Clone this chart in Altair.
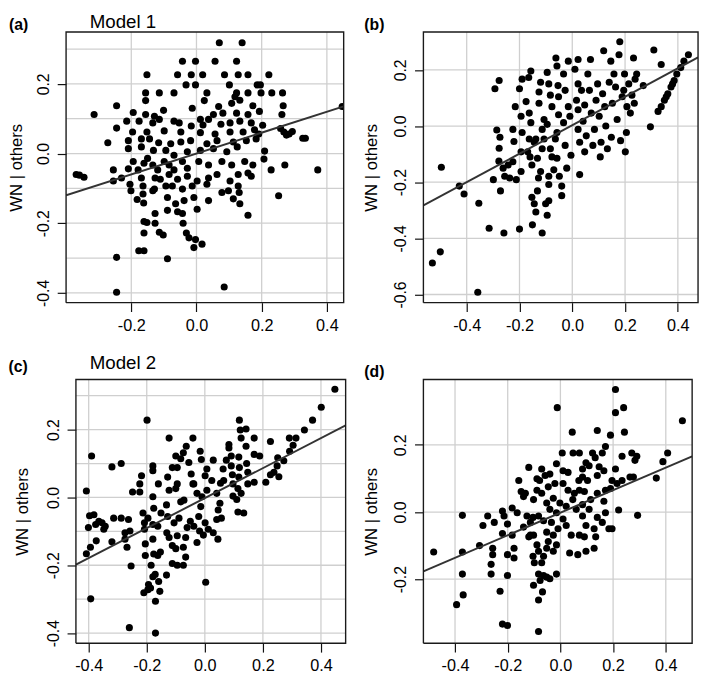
import altair as alt
import pandas as pd

FONT = "Liberation Sans"

# ---------------- data ----------------
pts_a = [
(0.070,0.318),(0.140,0.318),(-0.043,0.265),(-0.003,0.265),(0.057,0.265),(0.123,0.265),
(-0.152,0.226),(-0.058,0.226),(-0.016,0.226),(0.019,0.226),(0.086,0.226),(0.128,0.226),(0.158,0.226),(0.222,0.226),
(-0.032,0.197),(-0.003,0.197),(0.101,0.197),(0.186,0.197),(0.196,0.197),
(-0.156,0.174),(-0.114,0.174),(-0.069,0.174),(0.032,0.174),(0.123,0.174),(0.158,0.174),(0.198,0.174),(0.231,0.174),(0.264,0.174),
(-0.156,0.152),(0.024,0.152),(0.118,0.163),(0.133,0.153),
(-0.245,0.137),(-0.314,0.112),(-0.194,0.118),(-0.156,0.112),(-0.101,0.124),(-0.013,0.130),(0.068,0.135),(0.108,0.144),(0.173,0.137),(0.266,0.137),(0.447,0.135),
(-0.129,0.107),(-0.069,0.093),(0.012,0.098),(0.052,0.112),(0.081,0.116),(0.123,0.116),(0.158,0.112),(0.193,0.121),(0.262,0.112),
(-0.245,0.073),(-0.214,0.093),(-0.176,0.093),(-0.134,0.088),(-0.114,0.098),(-0.053,0.088),(-0.016,0.079),(0.020,0.082),(0.037,0.098),(0.075,0.084),(0.103,0.088),(0.133,0.093),(0.168,0.088),(0.203,0.081),(0.258,0.072),(0.268,0.062),
(-0.196,0.062),(-0.152,0.062),(-0.099,0.065),(-0.048,0.062),(0.012,0.060),(0.057,0.056),(0.103,0.062),(0.143,0.062),(0.178,0.068),(0.191,0.056),(0.284,0.056),(0.294,0.063),(0.276,0.053),
(-0.272,0.031),(-0.209,0.037),(-0.169,0.042),(-0.144,0.042),(-0.116,0.031),(-0.079,0.028),(-0.048,0.033),(-0.018,0.037),(0.032,0.028),(0.063,0.037),(0.113,0.033),(0.153,0.037),(0.183,0.042),(0.326,0.044),(0.334,0.044),
(-0.209,0.014),(-0.169,0.019),(-0.132,0.009),(-0.094,0.009),(-0.069,-0.005),(-0.028,0.005),(0.012,0.009),(0.052,0.014),(0.093,0.005),(0.125,0.019),(0.209,0.007),(0.207,-0.016),
(-0.369,-0.060),(-0.359,-0.062),(-0.345,-0.068),(-0.255,-0.047),(-0.255,-0.079),(-0.230,-0.070),(-0.209,-0.044),(-0.194,-0.023),(-0.179,-0.047),(-0.161,-0.028),(-0.150,-0.014),(-0.134,-0.033),(-0.119,-0.047),(-0.099,-0.023),(-0.084,-0.033),(-0.069,-0.047),(-0.043,-0.023),(-0.028,-0.042),(0.007,-0.023),(0.037,-0.033),(0.078,-0.023),(0.108,-0.033),(0.148,-0.023),(0.173,-0.033),(0.229,-0.047),(0.271,-0.033),(0.372,-0.047),
(-0.204,-0.088),(-0.169,-0.070),(-0.127,-0.070),(-0.111,-0.074),(-0.084,-0.060),(-0.058,-0.074),(-0.028,-0.065),(0.002,-0.079),(0.037,-0.070),(0.063,-0.060),(0.103,-0.079),(0.128,-0.060),(0.158,-0.056),(0.168,-0.065),
(-0.201,-0.107),(-0.164,-0.093),(-0.129,-0.102),(-0.094,-0.093),(-0.074,-0.093),(-0.043,-0.102),(-0.013,-0.093),(0.032,-0.088),(0.078,-0.112),(0.098,-0.107),(0.128,-0.093),(0.131,-0.112),
(-0.182,-0.132),(-0.164,-0.116),(-0.134,-0.107),(-0.089,-0.126),(-0.064,-0.144),(-0.038,-0.135),(-0.008,-0.126),(0.037,-0.135),(0.113,-0.130),(0.133,-0.144),(0.252,-0.121),
(-0.162,-0.142),(-0.089,-0.163),(-0.058,-0.167),(-0.043,-0.172),(0.002,-0.160),(0.158,-0.177),(-0.127,-0.172),
(-0.161,-0.195),(-0.152,-0.198),(-0.127,-0.200),(-0.041,-0.200),
(-0.161,-0.228),(-0.114,-0.226),(-0.102,-0.234),(-0.031,-0.228),(-0.023,-0.242),
(-0.008,-0.270),(0.017,-0.260),(-0.003,-0.247),
(-0.177,-0.279),(-0.161,-0.279),(-0.245,-0.298),(-0.089,-0.302),(0.085,-0.383),(-0.245,-0.398),
]

pts_b = [
(-0.530,-0.488),(-0.500,-0.448),(-0.358,-0.592),(-0.496,-0.147),(-0.428,-0.214),(-0.410,-0.242),(-0.354,-0.275),(-0.315,-0.364),(-0.259,-0.381),(-0.200,-0.367),(-0.114,-0.381),(-0.151,-0.352),
(-0.299,-0.191),(-0.272,-0.231),(-0.278,-0.125),(-0.262,-0.150),(-0.256,-0.179),(-0.237,-0.185),(-0.212,-0.191),(-0.225,-0.127),(-0.243,-0.139),
(-0.293,0.133),(-0.277,0.162),(-0.286,-0.014),(-0.274,-0.040),(-0.277,-0.079),(-0.225,-0.012),(-0.216,0.069),(-0.221,-0.055),(-0.200,0.133),(-0.190,0.167),(-0.194,0.035),(-0.190,-0.023),(-0.194,-0.092),(-0.194,-0.162),
(-0.175,0.087),(-0.165,0.173),(-0.157,0.196),(-0.163,0.046),(-0.157,0.012),(-0.163,-0.046),(-0.160,-0.110),(-0.153,-0.139),(-0.153,-0.254),(-0.144,-0.277),(-0.138,-0.306),(-0.132,-0.231),(-0.128,-0.185),(-0.126,0.121),(-0.120,0.156),(-0.114,-0.081),(-0.107,-0.046),(-0.114,-0.012),(-0.107,0.023),(-0.101,-0.277),(-0.095,-0.318),(-0.089,-0.266),
(-0.095,0.191),(-0.089,0.150),(-0.083,0.110),(-0.077,0.069),(-0.077,-0.110),(-0.070,-0.156),(-0.083,-0.081),(-0.064,-0.046),(-0.058,-0.023),(-0.062,0.242),(-0.058,0.214),(-0.054,0.144),(-0.052,0.104),(-0.052,0.040),(-0.049,-0.179),(-0.040,-0.248),(-0.040,-0.214),(-0.033,0.185),(-0.027,0.127),(-0.033,0.012),(-0.027,-0.069),(-0.021,-0.150),(-0.015,0.231),(-0.015,0.069),(-0.009,0.035),(-0.005,-0.104),
(0.010,0.202),(0.022,0.237),(0.022,0.150),(0.016,0.092),(0.022,0.058),(0.022,-0.012),(0.028,-0.058),(0.028,-0.173),(0.035,0.127),(0.041,0.017),(0.047,0.075),(0.053,-0.035),(0.047,-0.092),(0.059,0.185),(0.065,0.127),(0.072,0.046),(0.069,0.237),(0.078,-0.069),(0.084,-0.012),(0.090,0.092),(0.096,0.150),(0.102,0.035),(0.106,-0.110),(0.109,-0.058),(0.115,0.115),(0.119,0.268),(0.123,0.069),(0.127,0.000),(0.133,-0.081),(0.140,0.156),(0.146,0.231),(0.148,-0.040),(0.152,0.081),(0.158,0.185),(0.164,0.139),(0.170,0.023),(0.177,0.254),(0.180,0.300),(0.183,-0.052),(0.189,0.104),(0.195,0.127),(0.198,0.185),(0.201,-0.092),(0.205,-0.023),(0.207,0.069),(0.214,0.150),(0.220,0.046),(0.226,0.110),(0.232,0.242),(0.235,0.081),(0.238,0.167),(0.244,0.185),(0.269,0.144),(0.296,-0.003),(0.309,0.271),(0.337,0.219),
(0.325,0.052),(0.337,0.069),(0.349,0.092),(0.362,0.115),(0.374,0.139),(0.386,0.162),(0.396,0.185),(0.411,0.208),(0.423,0.231),(0.440,0.254),(0.356,0.104),(0.380,0.150),
(-0.132,-0.115),(-0.120,-0.162),(-0.089,-0.208),(-0.089,-0.179),(-0.058,-0.115),(-0.095,0.006),(-0.138,-0.046),(-0.169,-0.092),(-0.144,-0.058),(-0.126,0.081),
]

pts_c = [
(0.448,0.319),(0.401,0.266),(0.371,0.228),(0.343,0.199),(0.314,0.175),(0.291,0.175),(0.304,0.154),(0.292,0.136),(0.272,0.108),(0.251,0.117),(0.249,0.093),(0.238,0.074),(0.255,0.061),(0.226,0.067),(0.210,0.045),(0.226,0.165),(0.189,0.122),(0.170,0.175),(0.170,0.127),(0.170,0.045),(0.148,0.074),(0.144,0.100),(0.142,0.202),(0.142,0.151),(0.119,0.228),(0.122,0.199),(0.125,0.175),(0.117,0.119),(0.119,0.088),(0.117,0.060),(0.114,0.026),(0.125,0.012),(0.134,-0.046),(0.114,-0.043),(0.110,-0.006),(0.097,0.004),(0.097,0.040),(0.095,0.067),(0.091,0.093),(0.083,0.146),(0.083,0.156),(0.074,0.110),(0.063,0.084),(0.065,0.050),(0.054,0.042),(0.041,0.012),(0.052,-0.017),(0.057,-0.061),(0.046,-0.037),(0.041,-0.065),(0.045,-0.123),(0.029,0.110),(0.024,0.050),(0.007,0.021),(0.001,0.064),(0.007,0.084),(-0.012,0.112),(-0.016,0.136),(-0.041,0.175),(-0.064,0.151),(-0.074,0.132),(-0.083,0.114),(-0.055,0.103),(-0.047,0.069),(-0.041,0.040),(-0.027,0.012),(-0.014,-0.027),(-0.021,-0.056),(0.001,-0.075),(0.012,-0.094),(-0.005,-0.111),(-0.018,-0.099),(-0.038,-0.085),(-0.050,-0.070),(-0.061,-0.089),(-0.066,-0.118),(-0.074,-0.147),(-0.066,-0.176),(-0.074,-0.200),(-0.095,-0.200),(-0.100,-0.151),(-0.095,-0.113),(-0.106,-0.075),(-0.089,-0.061),(-0.083,-0.013),(-0.072,-0.008),(-0.095,0.040),(-0.095,0.088),(-0.100,0.026),(-0.123,0.021),(-0.112,0.088),(-0.128,0.060),(-0.132,-0.022),(-0.128,-0.056),(-0.131,-0.104),(-0.123,-0.118),(-0.112,-0.142),(-0.112,-0.195),(-0.132,-0.229),(-0.123,0.175),(-0.151,-0.046),(-0.160,0.040),(-0.162,-0.085),(-0.153,-0.161),(-0.162,-0.171),(-0.159,-0.248),(-0.155,-0.277),(-0.170,-0.306),(-0.170,-0.400),(-0.171,-0.227),(-0.179,-0.234),(-0.185,-0.200),(-0.176,-0.167),(-0.179,-0.123),(-0.179,-0.080),(-0.176,-0.032),(-0.179,0.002),(-0.179,0.079),(-0.179,0.093),(-0.196,-0.061),(-0.199,0.228),(-0.205,-0.137),(-0.205,-0.171),(-0.210,-0.281),(-0.196,-0.272),(-0.187,-0.267),(-0.194,-0.257),(-0.208,-0.094),(-0.208,-0.075),(-0.213,-0.046),(-0.218,0.064),(-0.224,0.040),(-0.224,0.016),(-0.249,0.016),(-0.258,-0.099),(-0.254,-0.202),(-0.268,-0.147),(-0.263,-0.065),(-0.275,-0.123),(-0.275,-0.104),(-0.288,-0.061),(-0.288,0.100),(-0.320,0.090),(-0.320,-0.131),(-0.260,-0.384),(-0.314,-0.061),(-0.343,-0.085),(-0.348,-0.094),(-0.354,-0.075),(-0.365,-0.070),(-0.376,-0.080),(-0.382,-0.051),(-0.397,-0.054),(-0.374,-0.128),(-0.394,-0.147),(-0.401,-0.089),(-0.408,-0.166),(-0.408,0.019),(-0.390,0.122),(-0.393,-0.299),(0.003,-0.250),(-0.100,0.122),(-0.038,0.040),(0.091,0.122),(0.148,0.040),(-0.010,0.002),(0.029,-0.104),(-0.027,-0.133),
]

pts_d = [
(0.209,0.365),(0.209,0.296),(0.240,0.311),(-0.012,0.311),(0.463,0.272),(0.045,0.238),(0.140,0.243),(0.243,0.238),(0.190,0.229),(0.171,0.195),(0.159,0.176),(0.007,0.176),(0.048,0.176),(0.072,0.176),(0.122,0.176),(0.234,0.166),(0.271,0.176),(0.290,0.166),(0.407,0.176),(0.389,0.150),(0.364,0.101),(0.283,0.154),(0.277,0.104),(0.234,0.094),(0.209,0.128),(0.196,0.094),(0.165,0.123),(0.147,0.135),(0.132,0.162),(0.140,0.109),(0.109,0.138),(0.097,0.147),(0.084,0.128),(0.084,0.104),(0.103,0.094),(0.070,0.094),(0.072,0.065),(0.091,0.061),(0.053,0.056),(0.029,0.065),(0.010,0.123),(0.029,0.118),(-0.015,0.144),(-0.021,0.085),(-0.027,0.041),(-0.040,0.113),(-0.058,0.109),(-0.071,0.128),(-0.079,0.094),(-0.089,0.099),(-0.120,0.133),(-0.133,0.056),(-0.140,0.046),(-0.149,0.061),(-0.158,0.094),(-0.102,0.037),(-0.071,0.056),(-0.052,0.027),(-0.040,0.008),(-0.002,0.027),(0.022,0.017),(0.047,0.037),(0.060,0.008),(0.084,0.022),(0.115,0.037),(0.140,0.056),(0.165,0.032),(0.171,0.065),(0.190,0.070),(0.215,0.085),(0.264,0.104),(0.221,0.006),(0.293,-0.010),(0.171,-0.002),(0.184,-0.050),(0.196,-0.050),(0.159,-0.031),(0.140,-0.016),(0.134,-0.074),(0.128,-0.108),(0.097,-0.040),(0.084,-0.012),(0.091,-0.074),(0.072,-0.069),(0.097,-0.117),(0.066,-0.127),(0.035,-0.122),(0.041,-0.069),(0.022,-0.040),(0.010,-0.021),(-0.015,-0.002),(-0.009,-0.050),(-0.034,-0.031),(-0.027,-0.069),(-0.052,-0.060),(-0.064,-0.026),(-0.083,-0.012),(-0.104,-0.016),(-0.114,-0.031),(-0.127,-0.012),(-0.140,-0.045),(-0.120,-0.074),(-0.102,-0.069),(-0.089,-0.098),(-0.083,-0.117),(-0.104,-0.132),(-0.099,-0.151),(-0.071,-0.151),(-0.064,-0.132),(-0.052,-0.108),(-0.046,-0.088),(-0.015,-0.098),(-0.027,-0.117),(-0.083,-0.185),(-0.064,-0.189),(-0.052,-0.194),(-0.040,-0.199),(-0.077,-0.204),(-0.015,-0.185),(-0.102,-0.218),(-0.068,-0.238),(-0.083,-0.262),(-0.083,-0.356),(-0.201,-0.189),(-0.229,-0.236),(-0.220,-0.334),(-0.201,-0.338),(-0.176,-0.108),(-0.176,-0.137),(-0.201,-0.127),(-0.183,-0.069),(-0.201,-0.036),(-0.214,-0.012),(-0.183,0.012),(-0.164,-0.002),(-0.220,-0.064),(-0.220,0.003),(-0.251,-0.031),(-0.257,-0.108),(-0.257,-0.127),(-0.263,-0.156),(-0.263,-0.185),(-0.276,-0.012),(-0.294,-0.040),(-0.307,-0.100),(-0.369,-0.247),(-0.372,-0.185),(-0.372,-0.119),(-0.372,-0.010),(-0.394,-0.276),(-0.481,-0.119),(-0.046,0.075),(-0.089,0.065),(0.010,0.085),(0.109,0.008),(0.128,-0.050),(-0.114,-0.069),
]

# fitted lines (slope, intercept)
fit_a = (0.300, 0.000)
fit_b = (0.507, 0.003)
fit_c = (0.442, -0.002)
fit_d = (0.336, -0.002)

# axis domains and ticks
xdom_a, ydom_a = [-0.400, 0.4515], [-0.428, 0.349]
xdom_b, ydom_b = [-0.564, 0.4765], [-0.629, 0.335]
xdom_c, ydom_c = [-0.444, 0.485], [-0.430, 0.348]
xdom_d, ydom_d = [-0.520, 0.500], [-0.391, 0.395]

xt_a = [-0.2, 0.0, 0.2, 0.4]
xt_bcd = [-0.4, -0.2, 0.0, 0.2, 0.4]
yt_ac = [-0.4, -0.3, -0.2, -0.1, 0.0, 0.1, 0.2, 0.3]
yt_b = [-0.6, -0.4, -0.2, 0.0, 0.2]
yt_d = [-0.2, 0.0, 0.2]

LBL = ("abs(round(datum.value*10)) % 2 == 0 ? "
       "((datum.value < -0.001 ? '-' : '') + format(abs(datum.value), '.1f')) : ''")
GRID = "#cfcfcf"
BOX = "#1a1a1a"


def panel(pts, xdom, ydom, xt, yt, fit, w, h, tag, tag_xy, model=None, model_xy=None,
          title_x=-52, inset=0):
    """inset: blank pixels kept at the left of the view (the plot box starts there)."""
    df = pd.DataFrame(pts, columns=["x", "y"])
    xs = alt.Scale(domain=xdom, nice=False, zero=False, range=[inset, w + inset])
    ys = alt.Scale(domain=ydom, nice=False, zero=False)
    xaxis = alt.Axis(values=xt, title=None, labelExpr=LBL, labelFontSize=16.5, labelPadding=6,
                     grid=False)
    yaxis = alt.Axis(values=yt, title="WN | others", labelExpr=LBL, labelFontSize=16,
                     labelAngle=270, labelAlign="center", labelBaseline="bottom", labelPadding=6,
                     titleX=title_x, titleY=h / 2, titleAngle=270, titleAlign="center",
                     titleBaseline="middle", titleFontSize=17, grid=False, offset=-inset)
    X = alt.X("x:Q", scale=xs, axis=xaxis)
    Y = alt.Y("y:Q", scale=ys, axis=yaxis)
    # grid lines at the tick values, spanning the plot box only
    hgrid = alt.Chart(pd.DataFrame({"y": yt})).mark_rule(color=GRID, strokeWidth=1.3).encode(
        y=Y, x=alt.datum(xdom[0]), x2=alt.datum(xdom[1])
    )
    vgrid = alt.Chart(pd.DataFrame({"x": xt})).mark_rule(color=GRID, strokeWidth=1.3).encode(
        x=X, y=alt.datum(ydom[0]), y2=alt.datum(ydom[1])
    )
    points = alt.Chart(df).mark_circle(size=52, color="black", opacity=1, clip=True).encode(x=X, y=Y)
    slope, icpt = fit
    line_df = pd.DataFrame({"x": xdom, "y": [slope * v + icpt for v in xdom]})
    line = alt.Chart(line_df).mark_line(color="#333333", strokeWidth=2, clip=True).encode(x=X, y=Y)
    # plot box: a closed path through the four corners of the domain
    box_df = pd.DataFrame({
        "x": [xdom[0], xdom[1], xdom[1], xdom[0], xdom[0]],
        "y": [ydom[0], ydom[0], ydom[1], ydom[1], ydom[0]],
        "i": [0, 1, 2, 3, 4],
    })
    box = alt.Chart(box_df).mark_line(color=BOX, strokeWidth=1.4, clip=False,
                                      strokeJoin="miter").encode(
        x=X, y=Y, order="i:Q"
    )
    one = pd.DataFrame({"t": [tag]})
    layers = [hgrid, vgrid, points, line, box]
    layers.append(
        alt.Chart(one).mark_text(
            align="left", baseline="top", font=FONT, fontSize=16, fontWeight="bold", color="black"
        ).encode(text="t:N", x=alt.value(tag_xy[0] + inset), y=alt.value(tag_xy[1]))
    )
    if model:
        layers.append(
            alt.Chart(pd.DataFrame({"t": [model]})).mark_text(
                align="left", baseline="top", font=FONT, fontSize=19, color="black"
            ).encode(text="t:N", x=alt.value(model_xy[0] + inset), y=alt.value(model_xy[1]))
        )
    return alt.layer(*layers).properties(
        width=w + inset, height=h,
        view=alt.ViewBackground(stroke=None, strokeWidth=0),
    )


pa = panel(pts_a, xdom_a, ydom_a, xt_a, yt_ac, fit_a, 282, 275, "(a)", (-58, -15), "Model 1", (24, -19), title_x=-50)
pb = panel(pts_b, xdom_b, ydom_b, xt_bcd, yt_b, fit_b, 279, 275, "(b)", (-60, -15), title_x=-53)
pc = panel(pts_c, xdom_c, ydom_c, xt_bcd, yt_ac, fit_c, 274, 268, "(c)", (-68.5, -21), "Model 2", (14, -26), title_x=-54, inset=10)
pd_ = panel(pts_d, xdom_d, ydom_d, xt_bcd, yt_d, fit_d, 273, 268, "(d)", (-60, -15), title_x=-53)

row1 = alt.hconcat(pa, pb, spacing=81, bounds="flush")
row2 = alt.hconcat(pc, pd_, spacing=79, bounds="flush")

chart = alt.vconcat(row1, row2, spacing=20).properties(
    padding={"left": 0, "top": 0, "right": 0, "bottom": 0}
).configure_view(
    strokeWidth=0
).configure_axis(
    domain=False,
    tickColor="#111111", tickWidth=1.2, tickSize=9,
    labelColor="black", titleColor="black", labelFont=FONT, titleFont=FONT,
    titleFontWeight="normal", labelOverlap=False, labelFlush=False, labelBound=False,
)

chart.save("out.html", embed_options={"renderer": "svg", "actions": False})
